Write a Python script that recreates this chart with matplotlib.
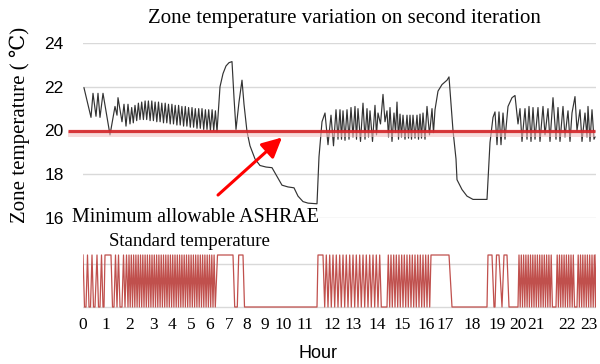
import matplotlib
matplotlib.use('Agg')
import matplotlib.pyplot as plt

# time axis is the simulation step (uneven number of steps per hour)
hour_ticks = [0, 23, 47, 70, 89, 108, 127, 146, 164, 182, 200, 222,
              249, 270, 294, 319, 343, 362, 389, 414, 435, 453, 484, 506]
hour_labels = [str(h) for h in range(24)]

# zone temperature (degC)
temp_t = [1, 8, 10, 13, 15, 17, 20, 27, 32, 34, 35, 39, 41, 43, 45, 47,
          48.7, 50.3, 52.0, 53.7, 55.4, 57.0, 58.7, 60.4, 62.1, 63.7, 65.4, 67.1,
          68.8, 70.4, 72.1, 73.8, 75.5, 77.1, 78.8, 80.5, 82.2, 83.8, 85.5, 87.2,
          88.9, 90.5, 92.2, 93.9, 95.6, 97.2, 98.9, 100.6, 102.3, 103.9, 105.6, 107.3,
          109.0, 110.6, 112.3, 114.0, 115.7, 117.3, 119.0, 120.7, 122.4, 124.0, 125.7, 127.4,
          129.1, 130.7, 132.4, 134.0,
          137, 140, 143, 146, 149, 151, 153, 156, 159, 161, 164, 167, 172, 177, 183, 189,
          194, 199, 205, 211, 215, 220, 225, 234,
          236, 239, 242, 245, 248, 250.5, 253, 255, 257, 258.5, 260, 262, 264, 266, 268, 270,
          272, 273.5, 275, 277.5, 280, 282, 284, 285.5, 287, 289.5, 292, 293.5, 295, 297.5,
          300, 302, 304, 305.5, 307, 309, 311, 312.5, 314, 315.5, 317, 318.5, 320, 322,
          324, 325.5, 327, 328.5, 330, 332, 334, 335.5, 337, 338.5, 340, 342, 344, 346.5,
          349, 350.5,
          352, 355, 359, 364, 366, 369, 370, 373, 374, 379, 384, 390, 404,
          407, 410, 412, 414, 416, 418, 420, 422, 425, 429, 432, 435, 437, 439, 442, 444,
          446, 448, 450, 452, 455, 457, 460, 462, 465, 467, 470, 473, 475, 477, 480, 482,
          485, 487, 489, 492, 494, 497, 499, 502, 504, 505, 507, 509, 511, 512]
temp_v = [21.95, 20.6, 21.7, 20.65, 21.7, 20.6, 21.7, 19.8, 21.1, 20.7, 21.5, 20.4, 21.2, 20.2, 21.2, 20.3,
          21.05, 20.35, 21.15, 20.45, 21.25, 20.5, 21.3, 20.5, 21.35, 20.5, 21.35, 20.45,
          21.35, 20.45, 21.3, 20.4, 21.3, 20.4, 21.25, 20.35, 21.25, 20.35, 21.2, 20.3,
          21.2, 20.3, 21.15, 20.25, 21.15, 20.25, 21.1, 20.2, 21.1, 20.2, 21.05, 20.15,
          21.05, 20.15, 21.0, 20.1, 21.0, 20.1, 21.0, 20.05, 20.95, 20.05, 20.95, 20.0,
          20.95, 20.0, 20.9, 19.95,
          22.0, 22.6, 22.95, 23.1, 23.15, 21.5, 20.05, 21.3, 22.3, 21.2, 19.95, 19.3, 18.7, 18.4, 18.33, 18.3,
          17.9, 17.5, 17.42, 17.38, 17.0, 16.75, 16.68, 16.65,
          18.8, 20.4, 20.8, 19.35, 20.7, 19.3, 20.95, 19.6, 20.95, 19.6, 20.9, 19.55, 20.95, 19.6, 21.05, 19.7,
          21.1, 19.6, 21.0, 19.5, 21.25, 19.6, 21.0, 19.7, 20.9, 19.5, 21.15, 19.8, 20.8, 20.3,
          21.65, 20.4, 20.9, 19.7, 21.05, 19.5, 20.8, 19.9, 21.3, 19.6, 20.75, 19.7, 20.7, 19.6,
          20.7, 19.65, 20.7, 19.6, 20.7, 19.65, 20.7, 19.6, 20.75, 19.65, 20.8, 19.6, 21.1, 19.8,
          21.0, 19.9,
          20.95, 21.8, 22.1, 22.3, 22.45, 20.65, 20.0, 18.7, 17.75, 17.3, 17.0, 16.85, 16.85,
          19.45, 20.6, 20.85, 19.35, 20.85, 19.35, 20.8, 19.6, 21.1, 21.5, 21.6, 20.3, 21.0, 19.5, 21.0, 19.6,
          21.1, 19.5, 21.05, 19.6, 21.05, 19.5, 21.1, 19.8, 21.0, 19.5, 21.5, 19.6, 21.05, 19.5, 21.1, 19.7,
          20.9, 19.5, 20.8, 21.55, 20.0, 20.95, 19.5, 20.8, 19.7, 21.1, 19.5, 20.95, 19.6, 19.7]

# heating on/off signal
sig_t = [0, 1.5, 3, 4.5, 6, 7.5, 9, 10.5, 12, 14, 15.5, 17, 18.5, 20, 21, 22, 28,
         29.5, 31, 32.5, 34, 35.5, 37, 39, 40.5, 42, 43.5, 45,
         46.0, 47.2, 48.3, 49.5, 50.6, 51.8, 52.9, 54.1, 55.2, 56.4, 57.5, 58.7,
         59.8, 61.0, 62.1, 63.3, 64.4, 65.6, 66.7, 67.9, 69.0, 70.2, 71.3, 72.5,
         73.6, 74.8, 75.9, 77.1, 78.2, 79.4, 80.5, 81.7, 82.8, 84.0, 85.1, 86.3,
         87.4, 88.6, 89.7, 90.9, 92.0, 93.2, 94.3, 95.5, 96.6, 97.8, 98.9, 100.1,
         101.2, 102.4, 103.5, 104.7, 105.8, 107.0, 108.1, 109.3, 110.4, 111.6, 112.7, 113.9,
         115.0, 116.2, 117.3, 118.5, 119.6, 120.8, 121.9, 123.1, 124.2, 125.4, 126.5, 127.7,
         128.8, 130.0, 131.1, 132.3,
         134.5, 150, 151.7, 154.3, 155.7, 160, 161.5, 234, 235, 240,
         241.7, 243.3, 245, 246.7, 248.3, 250, 251.7, 253.3, 255, 256.7, 258.3, 260,
         261.7, 263.3, 265, 266.7, 268.3, 270, 271.7, 273.3, 275, 276.7, 278.3, 280,
         281.7, 283.3, 285, 286.7, 288.3, 290, 291.7, 293.3, 295, 296.7, 298.3, 304,
         305.3, 306.7, 308, 309.3, 310.7, 312, 313.3, 314.7, 316, 317.3, 318.7, 320,
         321.3, 322.7, 324, 325.3, 326.7, 328, 329.3, 330.7, 332, 333.3, 334.7, 336,
         337.3, 338.7, 340, 341.3, 342.7, 344, 345.3, 346.7, 348, 366, 369, 404,
         405, 409, 411, 412, 413.5, 416, 419, 421, 424, 426, 435,
         436, 437.2, 438.3, 439.5, 440.6, 441.8, 442.9, 444.1, 445.2, 446.4, 447.5, 448.7,
         449.8, 451.0, 452.1, 453.3, 454.4, 455.6, 456.7, 457.9, 459.0, 460.2, 461.3, 462.5,
         463.6, 464.8, 465.9, 467.1, 468.2, 469.4, 473,
         474.2, 475.4, 476.5, 477.7, 478.8, 480.0, 481.1, 482.3, 483.4, 484.6, 485.7, 486.9,
         488.0, 489.2, 490.3, 491.5, 494,
         495.2, 496.4, 497.5, 498.7, 499.8, 501.0, 502.1, 503.3, 504.4, 505.6, 506.7, 507.9,
         509.0, 510.2, 511.3, 512.5, 513]
sig_v = [1, 0, 0, 1, 0, 0, 1, 0, 0, 1, 0, 0, 1, 0, 0, 1, 1,
         0, 0, 1, 0, 1, 0, 0, 1, 0, 1, 0,
         1, 0, 1, 0, 1, 0, 1, 0, 1, 0, 1, 0,
         1, 0, 1, 0, 1, 0, 1, 0, 1, 0, 1, 0,
         1, 0, 1, 0, 1, 0, 1, 0, 1, 0, 1, 0,
         1, 0, 1, 0, 1, 0, 1, 0, 1, 0, 1, 0,
         1, 0, 1, 0, 1, 0, 1, 0, 1, 0, 1, 0,
         1, 0, 1, 0, 1, 0, 1, 0, 1, 0, 1, 0,
         1, 0, 1, 0,
         1, 1, 0, 0, 1, 1, 0, 0, 1, 1,
         0, 1, 0, 1, 0, 1, 0, 1, 0, 1, 0, 1,
         0, 1, 0, 1, 0, 1, 0, 1, 0, 1, 0, 1,
         0, 1, 0, 1, 0, 1, 0, 1, 0, 1, 0, 0,
         1, 0, 1, 0, 1, 0, 1, 0, 1, 0, 1, 0,
         1, 0, 1, 0, 1, 0, 1, 0, 1, 0, 1, 0,
         1, 0, 1, 0, 1, 0, 1, 0, 1, 1, 0, 0,
         1, 1, 0, 0, 1, 1, 0, 1, 1, 0, 0,
         1, 0, 1, 0, 1, 0, 1, 0, 1, 0, 1, 0,
         1, 0, 1, 0, 1, 0, 1, 0, 1, 0, 1, 0,
         1, 0, 1, 0, 1, 0, 0,
         1, 0, 1, 0, 1, 0, 1, 0, 1, 0, 1, 0,
         1, 0, 1, 0, 0,
         1, 0, 1, 0, 1, 0, 1, 0, 1, 0, 1, 0,
         1, 0, 1, 0, 1]

setpoint = 20  # minimum allowable ASHRAE standard temperature

serif = ['Liberation Serif', 'DejaVu Serif', 'DejaVu Sans']
sans = ['Liberation Sans', 'DejaVu Sans']

fig = plt.figure(figsize=(6, 3.64), dpi=100)

# --- top panel: zone temperature ---
ax = fig.add_axes([83/600, 1 - 218/364, 513/600, 175/364])
ax.set_xlim(0, 513)
ax.set_ylim(16, 24)
ax.set_yticks([16, 18, 20, 22, 24])
ax.set_yticklabels(['16', '18', '20', '22', '24'], family=sans, fontsize=12.5)
ax.set_xticks([])
ax.tick_params(axis='y', length=0, pad=14)
ax.grid(axis='y', color='#d9d9d9', lw=1)
ax.set_axisbelow(True)
for s in ax.spines.values():
    s.set_visible(False)

ax.plot(temp_t, temp_v, color='#333333', lw=0.85, zorder=3)

# red setpoint line with a soft shadow underneath
ax.fill_between([-15, 512], setpoint - 0.28, setpoint - 0.03, color='#f2c4c4',
                alpha=0.6, lw=0, clip_on=False, zorder=4)
ax.plot([-15, 512], [setpoint, setpoint], color='#d42428', lw=2.3, alpha=0.9,
        clip_on=False, zorder=5, solid_capstyle='butt')

ax.annotate('', xy=(199, 19.68), xytext=(135, 17.05), annotation_clip=False,
            arrowprops=dict(arrowstyle='-|>,head_length=0.6,head_width=0.3',
                            mutation_scale=20, color='#ff0000', lw=2.2,
                            shrinkA=0, shrinkB=0), zorder=6)

# --- bottom panel: on/off signal ---
ax2 = fig.add_axes([83/600, 1 - 312.2/364, 513/600, 72.8/364])
ax2.set_xlim(0, 513)
ax2.set_ylim(-0.1, 1.3)
ax2.axhline(0, color='#d9d9d9', lw=1, zorder=1)
ax2.axhline(0.83, color='#d9d9d9', lw=1, zorder=1)
ax2.plot(sig_t, sig_v, color='#c0504d', lw=0.9, zorder=3)
ax2.set_yticks([])
ax2.set_xticks(hour_ticks)
ax2.set_xticklabels(hour_labels, family=serif, fontsize=12.5)
ax2.tick_params(axis='x', length=0, pad=3.5)
for s in ax2.spines.values():
    s.set_visible(False)

# --- texts ---
fig.text(344/600, 1 - 19/364, 'Zone temperature variation on second iteration',
         family=serif, fontsize=15, ha='center', va='center')
fig.text(20/600, 1 - 125/364, 'Zone temperature ( \u2103)', family=serif,
         fontsize=15, rotation=90, ha='center', va='center')
fig.text(72/600, 1 - 218/364, 'Minimum allowable ASHRAE', family=serif,
         fontsize=14.4, ha='left', va='center')
fig.text(109/600, 1 - 242/364, 'Standard temperature', family=serif,
         fontsize=13.5, ha='left', va='center')
fig.text(318/600, 1 - 353/364, 'Hour', family=sans, fontsize=13,
         ha='center', va='center')

fig.savefig('out.png', dpi=100)
